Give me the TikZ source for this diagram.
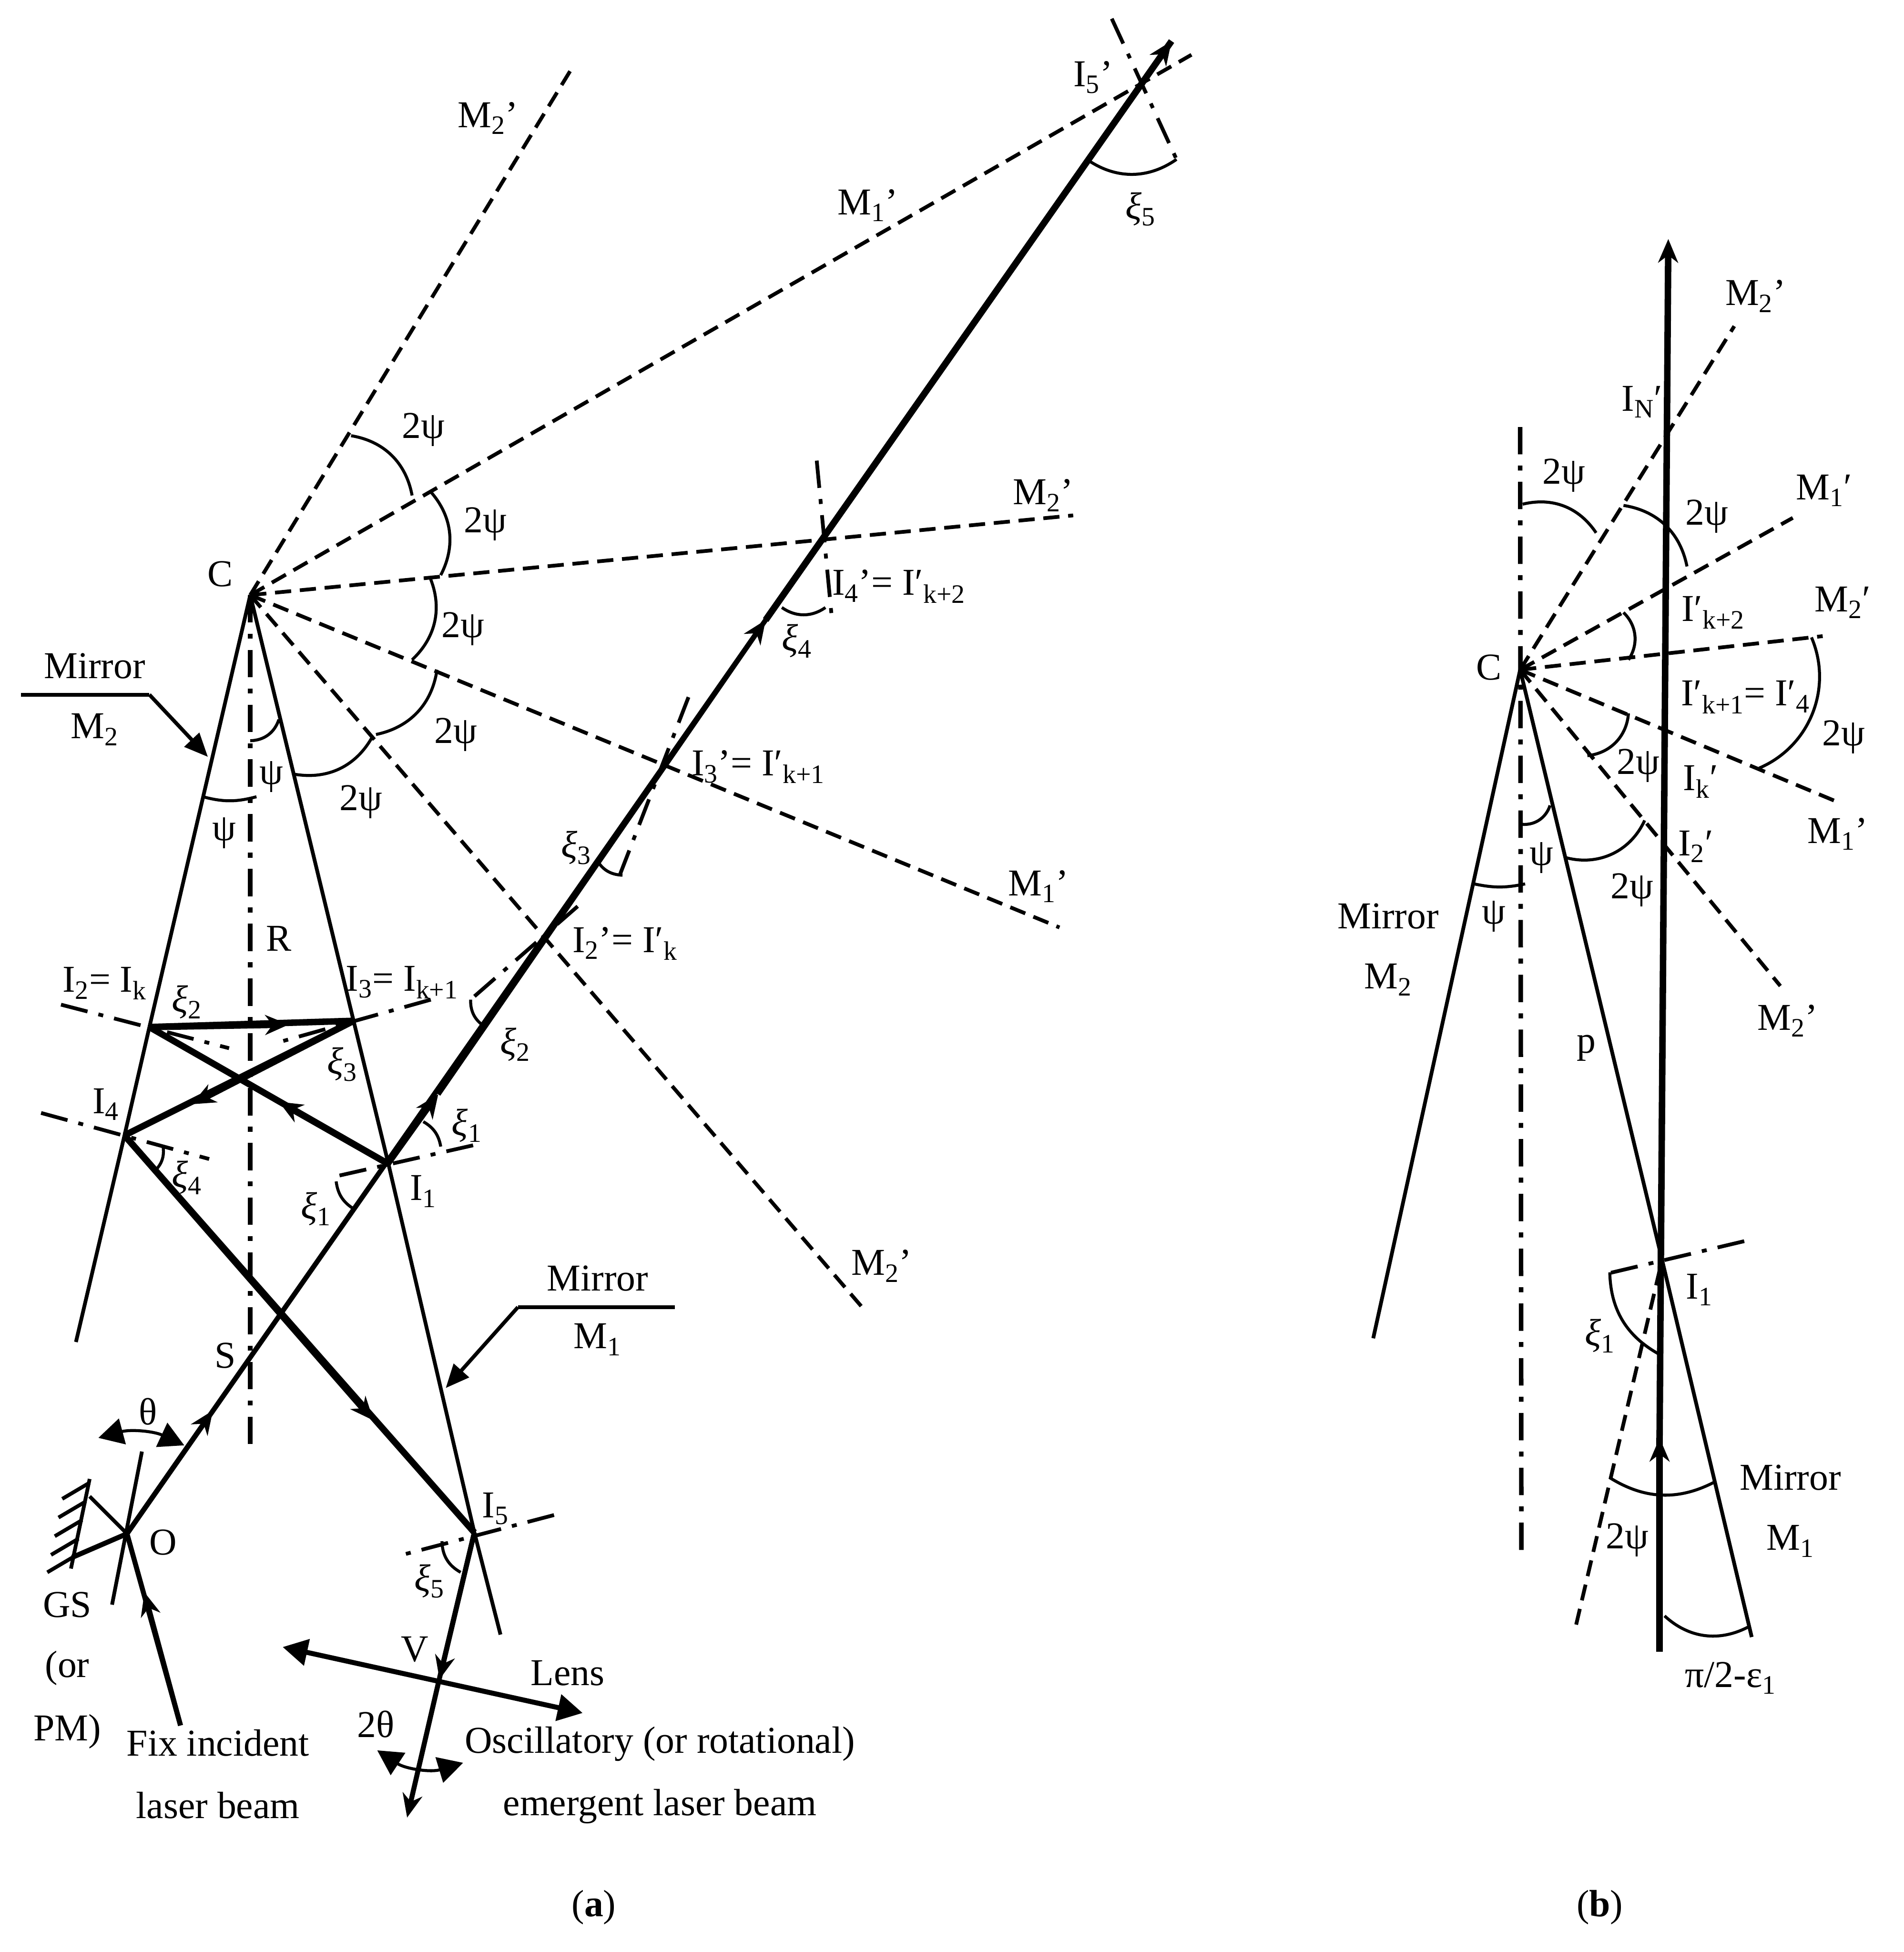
\documentclass[tikz,border=0pt]{standalone}
\usepackage{fontspec}
\setmainfont{Liberation Serif}
\usetikzlibrary{arrows.meta}
\newcommand{\xisub}[1]{{\itshape ξ}\textsubscript{#1}}
\tikzstyle{lbl}=[
	inner sep=0pt,
	font=\fontsize{30.5}{32}\selectfont
]
\tikzstyle{mirror}=[
	draw=black,
	line width=3pt
]
\tikzstyle{beam}=[
	draw=black,
	line width=4pt,
	-
]
\tikzstyle{heavy}=[
	beam,
	line width=5.2pt
]
\tikzstyle{ray}=[
	draw=black,
	line width=3pt,
	dash pattern=on 13pt off 7pt
]
\tikzstyle{normal}=[
	draw=black,
	line width=3pt,
	dash pattern=on 22pt off 9pt on 4pt off 9pt
]
\tikzstyle{axisline}=[
	normal,
	line width=3.6pt
]
\tikzstyle{angarc}=[
	draw=black,
	line width=2.4pt
]
\tikzstyle{tip}=[
	-{Stealth[length=19pt,width=16pt,inset=6pt]}
]
\tikzstyle{bigtip}=[
	{Triangle[length=20pt,width=21pt]}-{Triangle[length=20pt,width=21pt]}
]
\begin{document}
\begin{tikzpicture}[x=1pt, y=-1pt]
\useasboundingbox (0,0) rectangle (1529,1568);

\coordinate (C) at (201,478);
\coordinate (O) at (102,1232);
\coordinate (I1) at (312,935);
\coordinate (I2) at (120,825);
\coordinate (I3) at (284,820);
\coordinate (I4) at (100,912);
\coordinate (I5) at (381,1231);
\coordinate (V) at (353,1348);
\coordinate (mtwoend) at (61,1078);
\coordinate (moneend) at (402,1313);
\coordinate (axisend) at (201,1165);

\draw[mirror] (C) to (I2);
\draw[mirror] (I2) to (I4);
\draw[mirror] (I4) to (mtwoend);
\draw[mirror] (C) to (I3);
\draw[mirror] (I3) to (I1);
\draw[mirror] (I1) to (I5);
\draw[mirror] (I5) to (moneend);
\draw[axisline] (C) to (axisend);

\coordinate (rtwotop) at (458,57);
\coordinate (ronetop) at (957,44);
\coordinate (rtwomid) at (862,414);
\coordinate (ronelow) at (851,745);
\coordinate (rtwolow) at (695,1053);
\foreach \e in {rtwotop,ronetop,rtwomid,ronelow,rtwolow} {
    \draw[ray] (C) to (\e);
}

\draw[normal] (893,15) -- (945,128);
\draw[normal] (656,370) -- (668,495);
\draw[normal] (553,560) -- (497,705);
\draw[normal] (464,728) -- (378,803);
\draw[normal] (49,807) -- (184,842);
\draw[normal] (346,803) -- (221,838);
\draw[normal] (380,920) -- (265,946);
\draw[normal] (33,894) -- (168,931);
\draw[normal] (445,1217) -- (323,1249);

\coordinate (a1) at (171,1133);
\coordinate (a2) at (352,879);
\coordinate (a3) at (615,498);
\coordinate (a4) at (224,885);
\coordinate (a5) at (232,823);
\coordinate (a6) at (154,887);
\coordinate (a7) at (300,1141);
\coordinate (a8) at (116,1279);
\coordinate (a9) at (353,1349);
\coordinate (beamtip) at (941,33);
\coordinate (infix) at (145,1386);
\coordinate (outtip) at (327,1460);
\draw[beam] (O) to (a3);
\draw[heavy] (a3) to (beamtip);
\draw[heavy] (I1) to (I2);
\draw[heavy] (I2) to (I3);
\draw[heavy] (I3) to (I4);
\draw[heavy] (I4) to (I5);
\draw[beam] (infix) to (O);
\draw[beam] (I5) to (V);
\draw[beam,tip] (O) to (a1);
\draw[beam,tip] (I1) to (a2);
\draw[beam,tip] (a2) to (a3);
\draw[heavy,tip] (a3) to (beamtip);
\draw[heavy,tip] (I1) to (a4);
\draw[heavy,tip] (I2) to (a5);
\draw[heavy,tip] (I3) to (a6);
\draw[heavy,tip] (I4) to (a7);
\draw[beam,tip] (infix) to (a8);
\draw[beam,tip] (I5) to (a9);
\draw[beam,tip] (V) to (outtip);

\coordinate (gstop) at (72,1188);
\coordinate (gsbot) at (57,1260);
\coordinate (gsleft) at (72,1202);
\coordinate (gsright) at (58,1251);
\coordinate (pivtop) at (114,1166);
\coordinate (pivbot) at (90,1289);
\draw[mirror] (gstop) to (gsbot);
\draw[mirror] (pivtop) to (pivbot);
\draw[mirror] (O) to (gsleft);
\draw[beam] (O) to (gsright);
\foreach \y/\x in {1191/72,1206/69,1221/66,1236/63,1250/60} {
    \draw[mirror] (\x,\y) -- ++(-22,13);
}

\coordinate (lensa) at (227,1323);
\coordinate (lensb) at (468,1376);
\draw[beam,bigtip] (lensa) to (lensb);

\draw[angarc,bigtip] (79,1155) to[bend left=20] (148,1161);
\draw[angarc,bigtip] (303,1406) to[bend right=25] (372,1416);

\coordinate (mtwoa) at (17,558);
\coordinate (mtwob) at (120,558);
\coordinate (mtwoc) at (167,608);
\coordinate (monea) at (542,1050);
\coordinate (moneb) at (416,1050);
\coordinate (monec) at (358,1115);
\draw[mirror] (mtwoa) to (mtwob);
\draw[mirror,-{Triangle[length=19pt,width=16pt]}] (mtwob) to (mtwoc);
\draw[mirror] (monea) to (moneb);
\draw[mirror,-{Triangle[length=19pt,width=16pt]}] (moneb) to (monec);

\draw[angarc] (282,350) to[bend left=35] (331,398);
\draw[angarc] (345,394) to[bend left=35] (354,462);
\draw[angarc] (345,463) to[bend left=35] (331,530);
\draw[angarc] (351,538) to[bend left=35] (302,590);
\draw[angarc] (299,592) to[bend left=35] (237,622);
\draw[angarc] (201,595) to[bend right=35] (224,578);
\draw[angarc] (163,640) to[bend right=15] (206,640);
\draw[angarc] (873,128) to[bend right=35] (945,128);
\draw[angarc] (628,488) to[bend right=35] (663,488);
\draw[angarc] (479,690) to[bend right=30] (500,703);
\draw[angarc] (378,803) to[bend right=30] (390,825);
\draw[angarc] (340,901) to[bend left=25] (354,921);
\draw[angarc] (270,949) to[bend right=25] (284,971);
\draw[angarc] (131,921) to[bend left=25] (125,940);
\draw[angarc] (355,1238) to[bend right=30] (370,1263);

\node[lbl] (cl) at (177,461) {C};
\node[lbl] (mirtwo) at (76,535) {Mirror};
\node[lbl] (mtwol) at (76,586) {M\textsubscript{2}};
\node[lbl] (psia) at (218,624) {ψ};
\node[lbl] (psib) at (180,669) {ψ};
\node[lbl] (tpa) at (340,345) {2ψ};
\node[lbl] (tpb) at (390,421) {2ψ};
\node[lbl] (tpc) at (372,505) {2ψ};
\node[lbl] (tpd) at (366,590) {2ψ};
\node[lbl] (tpe) at (290,644) {2ψ};
\node[lbl] (xia) at (916,168) {\xisub{5}};
\node[lbl] (xib) at (640,515) {\xisub{4}};
\node[lbl] (xic) at (463,681) {\xisub{3}};
\node[lbl] (xid) at (414,839) {\xisub{2}};
\node[lbl] (xie) at (375,904) {\xisub{1}};
\node[lbl] (xif) at (254,971) {\xisub{1}};
\node[lbl] (xig) at (150,805) {\xisub{2}};
\node[lbl] (xih) at (275,855) {\xisub{3}};
\node[lbl] (xii) at (150,946) {\xisub{4}};
\node[lbl] (xij) at (345,1270) {\xisub{5}};
\node[lbl] (mpa) at (392,95) {M\textsubscript{2}’};
\node[lbl] (mpb) at (697,165) {M\textsubscript{1}’};
\node[lbl] (ifive) at (878,62) {I\textsubscript{5}’};
\node[lbl] (mpc) at (838,398) {M\textsubscript{2}’};
\node[lbl] (ifour) at (722,471) {I\textsubscript{4}’= I′\textsubscript{k+2}};
\node[lbl] (ithree) at (609,616) {I\textsubscript{3}’= I′\textsubscript{k+1}};
\node[lbl] (itwo) at (502,758) {I\textsubscript{2}’= I′\textsubscript{k}};
\node[lbl] (mpd) at (834,712) {M\textsubscript{1}’};
\node[lbl] (mpe) at (708,1017) {M\textsubscript{2}’};
\node[lbl] (ik) at (84,790) {I\textsubscript{2}= I\textsubscript{k}};
\node[lbl] (ikk) at (323,789) {I\textsubscript{3}= I\textsubscript{k+1}};
\node[lbl] (rl) at (224,754) {R};
\node[lbl] (ifl) at (85,887) {I\textsubscript{4}};
\node[lbl] (iol) at (340,957) {I\textsubscript{1}};
\node[lbl] (sl) at (181,1089) {S};
\node[lbl] (mirone) at (480,1027) {Mirror};
\node[lbl] (monel) at (480,1076) {M\textsubscript{1}};
\node[lbl] (thl) at (119,1134) {θ};
\node[lbl] (ol) at (131,1239) {O};
\node[lbl] (ifv) at (398,1212) {I\textsubscript{5}};
\node[lbl] (gsl) at (54,1289) {GS};
\node[lbl] (orl) at (54,1340) {(or};
\node[lbl] (pml) at (54,1391) {PM)};
\node[lbl] (fixl) at (175,1400) {Fix incident};
\node[lbl] (lasl) at (175,1450) {laser beam};
\node[lbl] (vl) at (333,1325) {V};
\node[lbl] (lensl) at (456,1344) {Lens};
\node[lbl] (ttl) at (302,1385) {2θ};
\node[lbl] (oscl) at (530,1401) {Oscillatory (or rotational)};
\node[lbl] (emel) at (530,1451) {emergent laser beam};
\node[lbl] (cap) at (477,1532) {(\textbf{a})};

\coordinate (bC) at (1221,538);
\coordinate (bI) at (1335,1012);
\coordinate (bmtwo) at (1103,1075);
\coordinate (bmone) at (1407,1315);
\coordinate (baxtop) at (1221,343);
\coordinate (baxbot) at (1222,1250);
\coordinate (bbot) at (1333,1327);
\coordinate (bmid) at (1333,1155);
\coordinate (btop) at (1340,192);
\coordinate (blow) at (1266,1305);
\draw[mirror] (bC) to (bmtwo);
\draw[mirror] (bC) to (bI);
\draw[mirror] (bI) to (bmone);
\draw[axisline] (baxtop) to (baxbot);
\draw[heavy] (bbot) to (bmid);
\draw[heavy,tip] (bbot) to (bmid);
\draw[heavy,tip] (bmid) to (btop);
\draw[ray] (blow) to (bI);
\draw[normal] (1401,997) -- (1287,1024);

\coordinate (bra) at (1393,262);
\coordinate (brb) at (1440,416);
\coordinate (brc) at (1464,511);
\coordinate (brd) at (1473,643);
\coordinate (bre) at (1430,792);
\foreach \e in {bra,brb,brc,brd,bre} {
    \draw[ray] (bC) to (\e);
}

\draw[angarc] (1223,405) to[bend left=35] (1282,428);
\draw[angarc] (1304,406) to[bend left=35] (1355,455);
\draw[angarc] (1304,492) to[bend left=40] (1308,530);
\draw[angarc] (1455,512) to[bend left=45] (1413,617);
\draw[angarc] (1308,573) to[bend left=40] (1275,607);
\draw[angarc] (1321,659) to[bend left=40] (1258,689);
\draw[angarc] (1221,662) to[bend right=40] (1245,647);
\draw[angarc] (1184,710) to[bend right=12] (1225,710);
\draw[angarc] (1293,1022) to[bend right=30] (1333,1088);
\draw[angarc] (1293,1187) to[bend right=30] (1378,1190);
\draw[angarc] (1337,1298) to[bend right=35] (1404,1307);

\node[lbl] (bma) at (1410,238) {M\textsubscript{2}’};
\node[lbl] (bin) at (1319,323) {I\textsubscript{N}′};
\node[lbl] (btpa) at (1256,382) {2ψ};
\node[lbl] (btpb) at (1371,415) {2ψ};
\node[lbl] (bmb) at (1465,394) {M\textsubscript{1}′};
\node[lbl] (bikt) at (1376,492) {I′\textsubscript{k+2}};
\node[lbl] (bmc) at (1480,484) {M\textsubscript{2}′};
\node[lbl] (bcl) at (1196,536) {C};
\node[lbl] (bikf) at (1402,560) {I′\textsubscript{k+1}= I′\textsubscript{4}};
\node[lbl] (btpc) at (1481,592) {2ψ};
\node[lbl] (btpd) at (1316,615) {2ψ};
\node[lbl] (bik) at (1366,628) {I\textsubscript{k}′};
\node[lbl] (bmd) at (1476,670) {M\textsubscript{1}’};
\node[lbl] (bit) at (1362,680) {I\textsubscript{2}′};
\node[lbl] (bpsa) at (1238,689) {ψ};
\node[lbl] (btpe) at (1311,715) {2ψ};
\node[lbl] (bmir) at (1115,736) {Mirror};
\node[lbl] (bpsb) at (1200,736) {ψ};
\node[lbl] (bmtl) at (1115,787) {M\textsubscript{2}};
\node[lbl] (bme) at (1436,820) {M\textsubscript{2}’};
\node[lbl] (bpl) at (1274,842) {p};
\node[lbl] (biol) at (1365,1036) {I\textsubscript{1}};
\node[lbl] (bxi) at (1285,1073) {\xisub{1}};
\node[lbl] (bmirb) at (1438,1187) {Mirror};
\node[lbl] (bmol) at (1438,1238) {M\textsubscript{1}};
\node[lbl] (btpf) at (1307,1237) {2ψ};
\node[lbl] (bpi) at (1390,1348) {π/2-ε\textsubscript{1}};
\node[lbl] (capb) at (1285,1532) {(\textbf{b})};
\end{tikzpicture}
\end{document}
